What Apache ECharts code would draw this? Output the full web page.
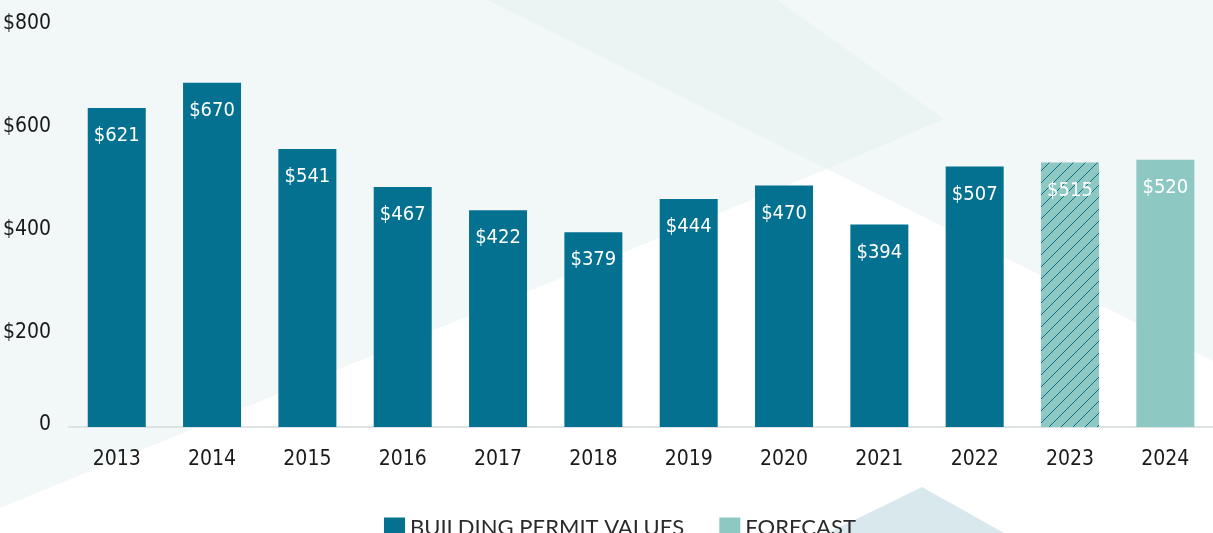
<!DOCTYPE html>
<html>
<head>
<meta charset="utf-8">
<script src="https://cdn.jsdelivr.net/npm/echarts@6/dist/echarts.min.js"></script>
<style>
  html, body { margin: 0; padding: 0; background: #f2f8f8; }
  #chart { width: 1213px; height: 533px; }
</style>
</head>
<body>
<div id="chart"></div>
<script>
// data
const years = ['2013', '2014', '2015', '2016', '2017', '2018', '2019', '2020', '2021', '2022', '2023', '2024'];
const permitValues = [621, 670, 541, 467, 422, 379, 444, 470, 394, 507, '-', '-'];
const forecastValues = ['-', '-', '-', '-', '-', '-', '-', '-', '-', '-', 515, 520];
const hatchedYears = ['2023'];
const yTicks = [0, 200, 400, 600, 800];

const DARK = '#03718f';
const LIGHT = '#8ec8c2';
const NARROW = "'Liberation Sans Narrow', 'DejaVu Sans Condensed', Roboto, sans-serif";

// diagonal hatch tile for the 2023 forecast bar
function hatchPattern() {
  const s = 12;
  const c = document.createElement('canvas');
  c.width = s; c.height = s;
  const ctx = c.getContext('2d');
  ctx.fillStyle = LIGHT;
  ctx.fillRect(0, 0, s, s);
  ctx.strokeStyle = '#0b6f8b';
  ctx.lineWidth = 1;
  ctx.beginPath();
  ctx.moveTo(-1, s + 1); ctx.lineTo(s + 1, -1);
  ctx.moveTo(-1, 1); ctx.lineTo(1, -1);
  ctx.moveTo(s - 1, s + 1); ctx.lineTo(s + 1, s - 1);
  ctx.stroke();
  return { image: c, repeat: 'repeat' };
}
const hatch = hatchPattern();

const forecastData = forecastValues.map((v, i) =>
  hatchedYears.includes(years[i]) ? { value: v, itemStyle: { color: hatch } } : v);

const chart = echarts.init(document.getElementById('chart'));

const valueLabel = {
  show: true,
  position: 'insideTop',
  distance: 18,
  color: '#ffffff',
  fontFamily: NARROW,
  fontSize: 20,
  formatter: p => '$' + p.value
};

chart.setOption({
  backgroundColor: '#f2f8f8',
  animation: false,
  graphic: [
    // white lower area
    { type: 'polygon', z: -10, silent: true,
      shape: { points: [[0, 508], [827, 169], [1213, 361], [1213, 533], [0, 533]] },
      style: { fill: '#ffffff' } },
    // slightly darker overlap at the top
    { type: 'polygon', z: -9, silent: true,
      shape: { points: [[487, 0], [777, 0], [944, 119], [827, 169]] },
      style: { fill: '#eaf4f3' } },
    // small triangle behind the legend
    { type: 'polygon', z: -9, silent: true,
      shape: { points: [[922, 487], [828, 533], [1004, 533]] },
      style: { fill: '#d9e8ed' } }
  ],
  grid: { left: 68, right: -6, top: 16, bottom: 106, containLabel: false },
  legend: {
    left: 379,
    top: 512,
    itemWidth: 21,
    itemHeight: 21,
    itemGap: 35,
    icon: 'rect',
    textStyle: { fontFamily: "Lato, 'Open Sans', sans-serif", fontSize: 22, color: '#2b2b2b', padding: [2, 0, 0, 0] },
    data: ['BUILDING PERMIT VALUES', 'FORECAST']
  },
  xAxis: {
    type: 'category',
    data: years,
    axisLine: { lineStyle: { color: '#dde2e5', width: 2 } },
    axisTick: { show: false },
    axisLabel: { color: '#1a1a1a', fontFamily: NARROW, fontSize: 21, margin: 22 }
  },
  yAxis: {
    type: 'value',
    min: yTicks[0],
    max: yTicks[yTicks.length - 1],
    interval: 200,
    splitLine: { show: false },
    axisLine: { show: false },
    axisTick: { show: false },
    axisLabel: {
      margin: 18,
      formatter: v => v === 0 ? '{z|0}' : '{v|$' + v + '}',
      rich: {
        v: { color: '#1a1a1a', fontFamily: NARROW, fontSize: 21, padding: [16, 0, 0, 0] },
        z: { color: '#1a1a1a', fontFamily: NARROW, fontSize: 21, padding: [0, 0, 4, 0] }
      }
    }
  },
  series: [
    {
      name: 'BUILDING PERMIT VALUES',
      type: 'bar',
      data: permitValues,
      barWidth: 58,
      barGap: '-100%',
      itemStyle: { color: DARK },
      label: valueLabel
    },
    {
      name: 'FORECAST',
      type: 'bar',
      data: forecastData,
      barWidth: 58,
      barGap: '-100%',
      itemStyle: { color: LIGHT },
      label: valueLabel
    }
  ]
});
</script>
</body>
</html>
